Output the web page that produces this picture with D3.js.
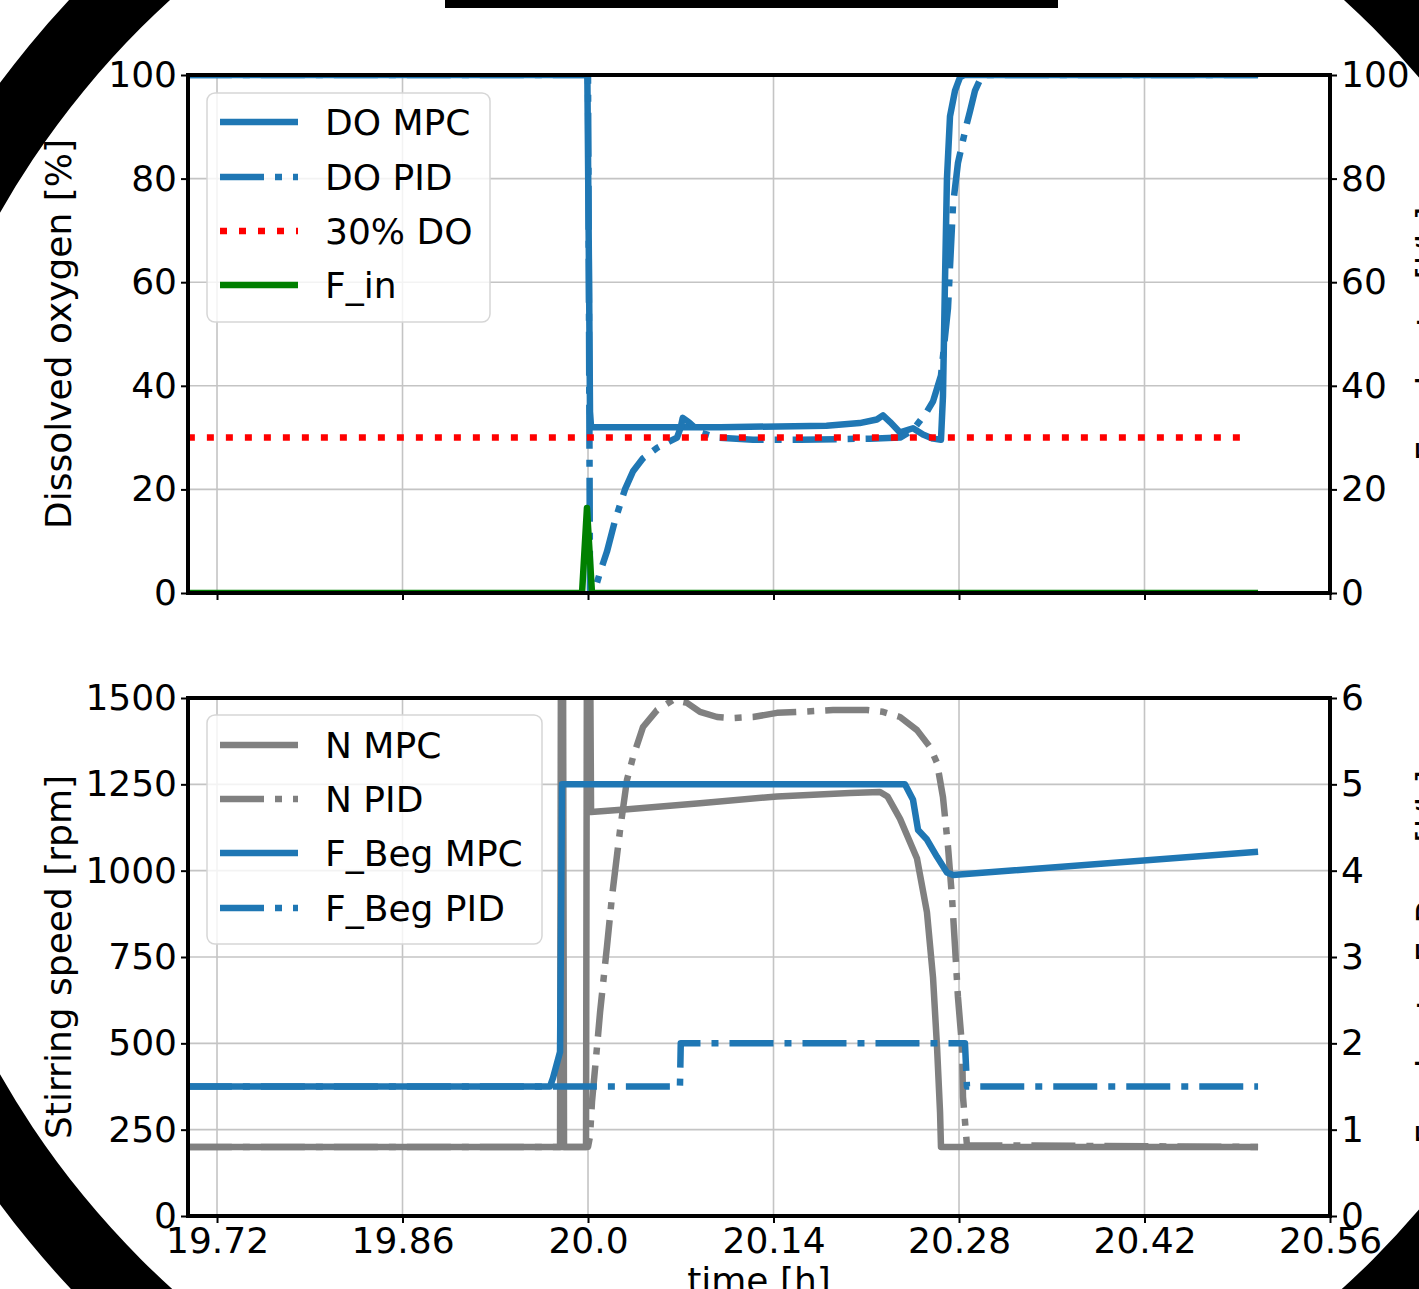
<!DOCTYPE html>
<html>
<head>
<meta charset="utf-8">
<script src="https://cdn.jsdelivr.net/npm/d3@7/dist/d3.min.js"></script>
<style>
  body { margin: 0; background: #fff; }
  svg { display: block; font-family: "DejaVu Sans", sans-serif; }
</style>
</head>
<body>
<svg id="chart" width="1419" height="1289"></svg>
<script>
// ticks
var timeTicks = [19.72, 19.86, 20.0, 20.14, 20.28, 20.42, 20.56],
  timeLabels = ["19.72", "19.86", "20.0", "20.14", "20.28", "20.42", "20.56"],
  doTicks = [0, 20, 40, 60, 80, 100],
  rpmTicks = [0, 250, 500, 750, 1000, 1250, 1500],
  feedTicks = [0, 1, 2, 3, 4, 5, 6];

// top panel series [time h, value]
var doMpc = [[19.698, 100], [19.9995, 100], [20.0008, 60], [20.0015, 35], [20.0023, 32],
  [20.10, 32], [20.18, 32.3], [20.205, 32.8], [20.218, 33.5], [20.2226, 34.3], [20.228, 33],
  [20.2355, 31], [20.2453, 31.8], [20.2528, 30.6], [20.2604, 29.8], [20.2664, 29.6],
  [20.2679, 38], [20.2694, 60], [20.2709, 80], [20.2732, 92], [20.277, 97], [20.2808, 99.6],
  [20.284, 100], [20.5057, 100]];

var doPid = [[19.698, 100], [20.0, 100], [20.0008, 50], [20.0015, 0], [20.0038, 0.5],
  [20.0068, 2], [20.0091, 4], [20.0143, 8], [20.0204, 14], [20.0279, 20], [20.034, 23.5],
  [20.0415, 26], [20.0521, 28], [20.0619, 29.3], [20.0672, 30], [20.07, 32], [20.0715, 33.8],
  [20.076, 33], [20.0845, 31], [20.0974, 30], [20.1245, 29.6], [20.16, 29.6], [20.2128, 29.8],
  [20.2355, 30], [20.2453, 31.5], [20.2558, 35], [20.2604, 37], [20.2664, 42], [20.2717, 55],
  [20.2755, 75], [20.2792, 83], [20.2853, 90], [20.2883, 93], [20.2921, 97], [20.2966, 99.5],
  [20.30, 100], [20.5057, 100]];

var doSetpoint = [[19.698, 30], [20.4958, 30]];

var fIn = [[19.698, 0], [19.9955, 0], [19.9992, 16.4], [20.003, 0], [20.5057, 0]];

// bottom panel series
var nMpc = [[19.698, 200], [19.9789, 200], [19.9796, 1700], [19.9811, 1700], [19.9819, 200],
  [19.9985, 200], [19.9992, 1700], [20.0015, 1700], [20.0023, 1170], [20.03, 1178],
  [20.0845, 1195], [20.1426, 1215], [20.1977, 1225], [20.2204, 1228], [20.226, 1215],
  [20.2355, 1150], [20.2483, 1035], [20.2558, 880], [20.2604, 690], [20.2634, 490],
  [20.2657, 300], [20.2664, 200], [20.5057, 200]];

var nPid = [[19.698, 200], [20.0, 200], [20.0015, 230], [20.003, 330], [20.0068, 490],
  [20.0091, 590], [20.0143, 780], [20.0181, 925], [20.0242, 1118], [20.0294, 1263],
  [20.034, 1329], [20.0415, 1416], [20.0521, 1465], [20.0642, 1494], [20.0747, 1486],
  [20.0845, 1460], [20.0974, 1445], [20.1094, 1442], [20.1245, 1445], [20.1426, 1457],
  [20.16, 1460], [20.1849, 1465], [20.2106, 1465], [20.2226, 1460], [20.2355, 1445],
  [20.2483, 1407], [20.2581, 1358], [20.2634, 1312], [20.2679, 1213], [20.2717, 1069],
  [20.2747, 924], [20.277, 779], [20.2792, 634], [20.2823, 490], [20.283, 345],
  [20.286, 205], [20.5057, 200]];

var fBegMpc = [[19.698, 1.5], [19.9713, 1.5], [19.9736, 1.6], [19.9789, 1.9], [19.9804, 5],
  [20.2392, 5], [20.2453, 4.82], [20.2491, 4.47], [20.2558, 4.36], [20.2634, 4.16],
  [20.2709, 3.98], [20.2755, 3.95], [20.5057, 4.22]];

var fBegPid = [[19.698, 1.5], [20.0694, 1.5], [20.07, 2], [20.2845, 2], [20.286, 1.5], [20.5057, 1.5]];

var blue = "#1f77b4", gray = "#808080", red = "#ff0000", green = "#008000",
  solid = null, dashdot = "44,11,7,11", dotted = "7,12";

var svg = d3.select("#chart"),
  left = 188, right = 1330, lw = 6.5;

var x = d3.scaleLinear().domain([19.6981, 20.56]).range([left, right]);

var panels = [
  {
    id: "top", y0: 75, y1: 593,
    yl: d3.scaleLinear().domain([0, 100]), ylTicks: doTicks,
    yr: d3.scaleLinear().domain([0, 100]), yrTicks: doTicks,
    label: "Dissolved oxygen [%]", rlabel: "Feed rate [l/h]",
    xlabels: false,
    series: [
      {name: "DO MPC", data: doMpc, color: blue, dash: solid, axis: "l"},
      {name: "DO PID", data: doPid, color: blue, dash: dashdot, axis: "l"},
      {name: "30% DO", data: doSetpoint, color: red, dash: dotted, axis: "l"},
      {name: "F_in", data: fIn, color: green, dash: solid, axis: "r"}
    ],
    legend: {x: 207, y: 93, w: 283, h: 229, rows: [122, 177, 231, 285]}
  },
  {
    id: "bottom", y0: 698, y1: 1216,
    yl: d3.scaleLinear().domain([0, 1500]), ylTicks: rpmTicks,
    yr: d3.scaleLinear().domain([0, 6]), yrTicks: feedTicks,
    label: "Stirring speed [rpm]", rlabel: "Feed rate F_Beg [l/h]",
    xlabels: true,
    series: [
      {name: "N MPC", data: nMpc, color: gray, dash: solid, axis: "l"},
      {name: "N PID", data: nPid, color: gray, dash: dashdot, axis: "l"},
      {name: "F_Beg MPC", data: fBegMpc, color: blue, dash: solid, axis: "r"},
      {name: "F_Beg PID", data: fBegPid, color: blue, dash: dashdot, axis: "r"}
    ],
    legend: {x: 207, y: 715, w: 335, h: 229, rows: [745, 799, 853, 908]}
  }
];

var styleAxis = function(g){
  g.select(".domain").remove();
  g.selectAll(".tick line").attr("stroke", "#000").attr("stroke-width", 2);
  g.selectAll(".tick text")
    .attr("fill", "#000")
    .style("font-size", "36px")
    .style("font-family", "'DejaVu Sans', sans-serif");
};

panels.forEach(function(p){
  p.yl.range([p.y1, p.y0]);
  p.yr.range([p.y1, p.y0]);

  var g = svg.append("g").attr("class", "panel " + p.id);

  svg.append("clipPath").attr("id", "clip-" + p.id)
    .append("rect")
    .attr("x", left).attr("y", p.y0)
    .attr("width", right - left).attr("height", p.y1 - p.y0);

  // grid
  var grid = g.append("g").attr("stroke", "#c4c4c4").attr("stroke-width", 1.6);
  grid.selectAll("line.v")
    .data(timeTicks.slice(0, -1))
    .enter().append("line")
    .attr("x1", x).attr("x2", x)
    .attr("y1", p.y0).attr("y2", p.y1);
  grid.selectAll("line.h")
    .data(p.ylTicks.slice(1, -1))
    .enter().append("line")
    .attr("x1", left).attr("x2", right)
    .attr("y1", p.yl).attr("y2", p.yl);

  // lines
  var plot = g.append("g").attr("clip-path", "url(#clip-" + p.id + ")");
  p.series.forEach(function(s){
    var yy = s.axis === "l" ? p.yl : p.yr;
    plot.append("path")
      .datum(s.data)
      .attr("fill", "none")
      .attr("stroke", s.color)
      .attr("stroke-width", lw)
      .attr("stroke-linejoin", "round")
      .attr("stroke-dasharray", s.dash)
      .attr("d", d3.line().x(function(d){ return x(d[0]); }).y(function(d){ return yy(d[1]); }));
  });

  // axes
  g.append("g")
    .attr("transform", "translate(" + left + ",0)")
    .call(d3.axisLeft(p.yl).tickValues(p.ylTicks).tickSize(7).tickPadding(4).tickFormat(d3.format("d")))
    .call(styleAxis);
  g.append("g")
    .attr("transform", "translate(" + right + ",0)")
    .call(d3.axisRight(p.yr).tickValues(p.yrTicks).tickSize(7).tickPadding(4).tickFormat(d3.format("d")))
    .call(styleAxis);
  g.append("g")
    .attr("transform", "translate(0," + p.y1 + ")")
    .call(d3.axisBottom(x).tickValues(timeTicks).tickSize(7).tickPadding(4)
      .tickFormat(function(d, i){ return p.xlabels ? timeLabels[i] : ""; }))
    .call(styleAxis);

  // frame
  g.append("rect")
    .attr("x", left).attr("y", p.y0)
    .attr("width", right - left).attr("height", p.y1 - p.y0)
    .attr("fill", "none").attr("stroke", "#000").attr("stroke-width", 4);

  // axis labels
  g.append("text")
    .attr("transform", "translate(71," + ((p.y0 + p.y1) / 2) + ") rotate(-90)")
    .attr("text-anchor", "middle")
    .style("font-size", "36px")
    .text(p.label);
  g.append("text")
    .attr("transform", "translate(1442," + ((p.y0 + p.y1) / 2) + ") rotate(-90)")
    .attr("text-anchor", "middle")
    .style("font-size", "36px")
    .text(p.rlabel);

  // legend
  var L = p.legend,
    leg = g.append("g").attr("class", "legend");
  leg.append("rect")
    .attr("x", L.x).attr("y", L.y).attr("width", L.w).attr("height", L.h)
    .attr("rx", 8).attr("ry", 8)
    .attr("fill", "#fff").attr("fill-opacity", 0.8)
    .attr("stroke", "#d6d6d6").attr("stroke-width", 1.5);
  var item = leg.selectAll("g.item")
    .data(p.series)
    .enter().append("g")
    .attr("transform", function(d, i){ return "translate(0," + L.rows[i] + ")"; });
  item.append("line")
    .attr("x1", 220).attr("x2", 298)
    .attr("stroke", function(d){ return d.color; })
    .attr("stroke-width", lw)
    .attr("stroke-dasharray", function(d){ return d.dash; });
  item.append("text")
    .attr("x", 325).attr("y", 13)
    .style("font-size", "36px")
    .text(function(d){ return d.name; });
});

svg.append("text")
  .attr("x", (left + right) / 2).attr("y", 1293)
  .attr("text-anchor", "middle")
  .style("font-size", "36px")
  .text("time [h]");

// black ring and bar framing the picture
var cx = 757, cy = 643.5, rIn = 871, rOut = 942,
  ring = d3.path();
ring.moveTo(cx + rOut, cy); ring.arc(cx, cy, rOut, 0, 2 * Math.PI);
ring.moveTo(cx + rIn, cy); ring.arc(cx, cy, rIn, 0, 2 * Math.PI);
svg.append("path")
  .attr("d", ring.toString())
  .attr("fill", "#000")
  .attr("fill-rule", "evenodd");
svg.append("rect")
  .attr("x", 445).attr("y", 0).attr("width", 613).attr("height", 8)
  .attr("fill", "#000");
</script>
</body>
</html>
